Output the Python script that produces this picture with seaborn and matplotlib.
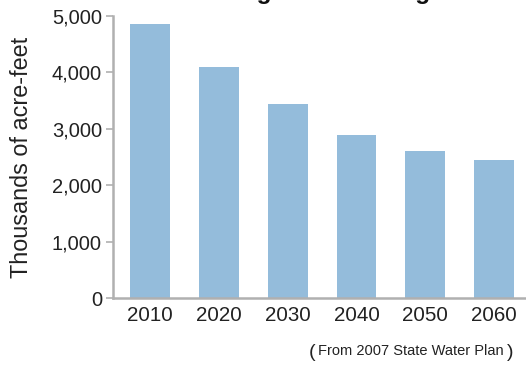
import matplotlib
matplotlib.use("Agg")
import matplotlib.pyplot as plt
import seaborn as sns
import pandas as pd

years = ["2010", "2020", "2030", "2040", "2050", "2060"]
demand = [4860, 4100, 3440, 2890, 2610, 2450]
yticks = [0, 1000, 2000, 3000, 4000, 5000]
title = "Agricultural Irrigation Demand"
ylabel = "Thousands of acre-feet"
caption = "From 2007 State Water Plan"

sns.set_style("white")
plt.rcParams["font.family"] = ["Liberation Sans", "DejaVu Sans"]

df = pd.DataFrame({"year": years, "demand": demand})

fig = plt.figure(figsize=(5.26, 3.66), dpi=100)
ax = fig.add_axes([113/526, 68/366, 412/526, 282/366])
sns.barplot(data=df, x="year", y="demand", color="#94bcdb", width=0.58,
            saturation=1, ax=ax, edgecolor="none")

ax.set_xlim(-0.54, 5.45)
ax.set_ylim(0, 5000)
ax.set_yticks(yticks)
ax.set_yticklabels([f"{v:,}" for v in yticks])
ax.set_xlabel("")
ax.set_ylabel(ylabel, fontsize=16.8, color="#222222")
ax.yaxis.set_label_coords(-0.195, 0.5)

for s in ["top", "right"]:
    ax.spines[s].set_visible(False)
for s in ["left", "bottom"]:
    ax.spines[s].set_color("#b0b0b0")
    ax.spines[s].set_linewidth(1.8)

ax.tick_params(axis="y", which="both", left=True, length=5, width=1.2,
               color="#b0b0b0", labelsize=14.5, labelcolor="#222222", pad=3)
ax.tick_params(axis="x", bottom=False, labelsize=14.8, labelcolor="#222222", pad=2)

fig.text(239/526, 1 + 1.5/366, title, fontsize=17.6, fontweight="bold",
         color="#111111", ha="left", va="baseline")

fig.text(309/526, 9/366, "(", fontsize=14, color="#222222", ha="left", va="baseline")
fig.text(318/526, 11/366, caption, fontsize=10.5, color="#222222", ha="left", va="baseline")
fig.text(507/526, 9/366, ")", fontsize=14, color="#222222", ha="left", va="baseline")

fig.savefig("out.png", dpi=100)
